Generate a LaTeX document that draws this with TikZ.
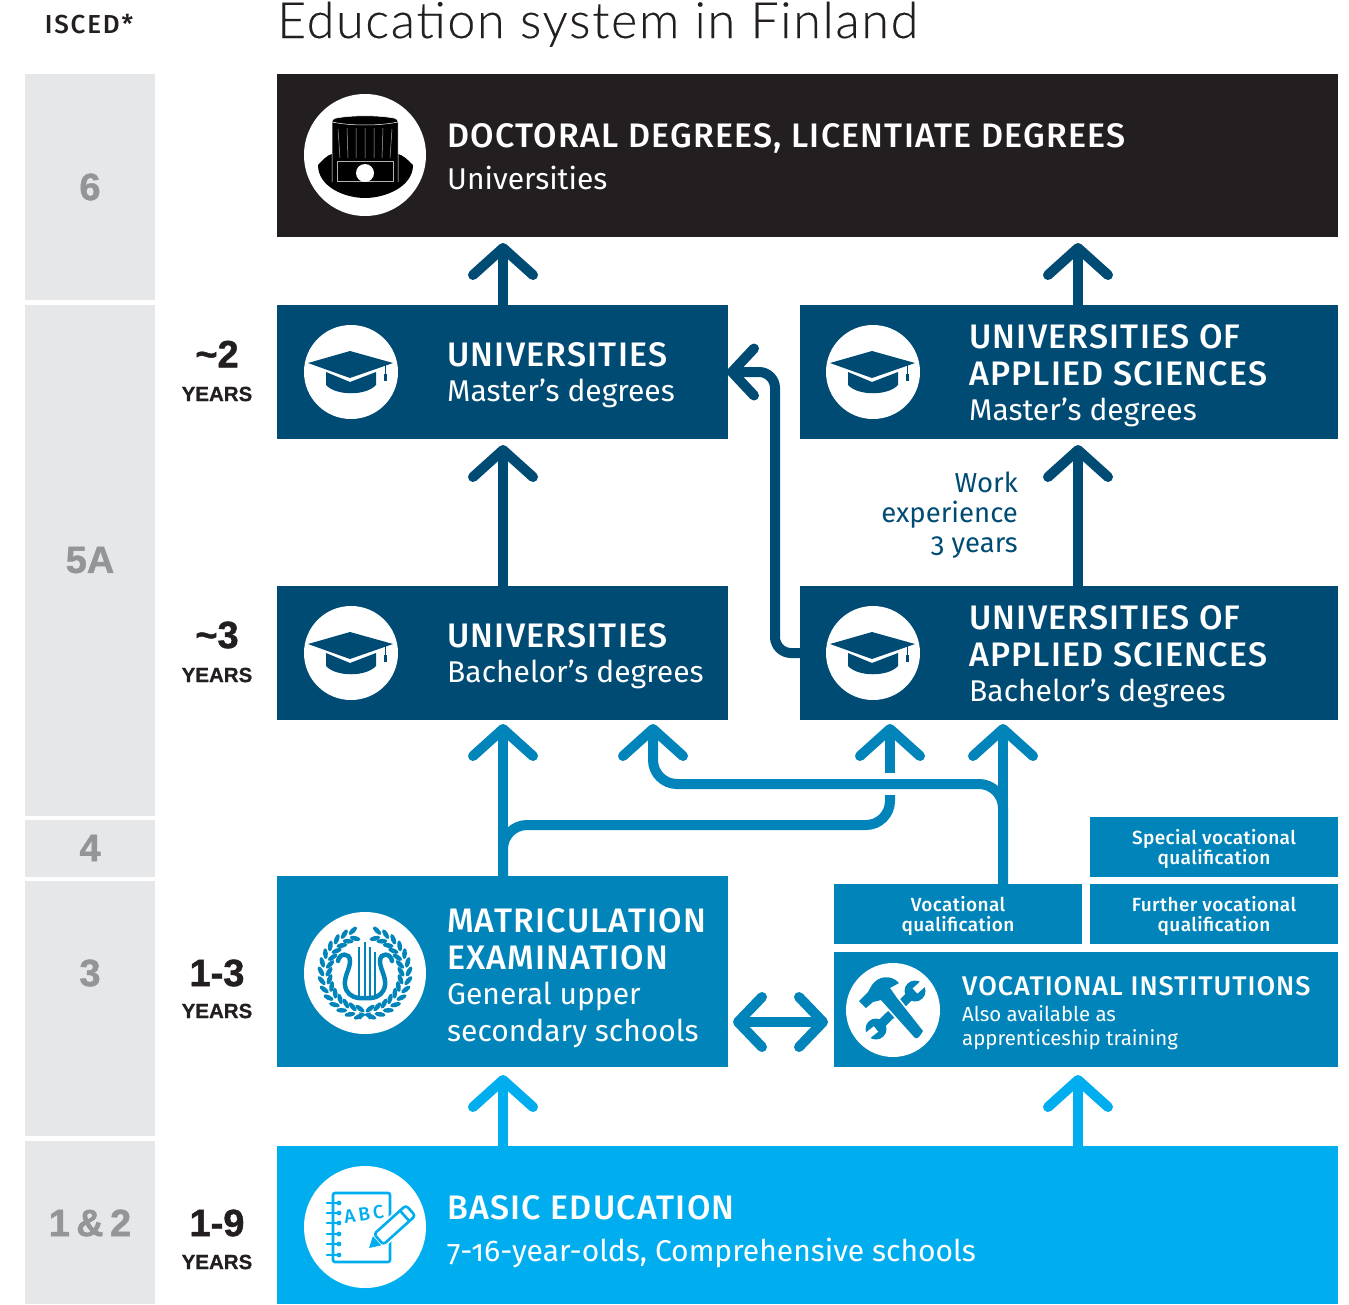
\documentclass[tikz,border=0pt]{standalone}
\usepackage{fontspec}
\setmainfont{Fira Sans}[Numbers=OldStyle,BoldFont={Fira Sans Medium}]
\newfontfamily\titlefont{Lato Light}[LetterSpace=3.6,FakeBold=0.3]
\newfontfamily\gradefont{Liberation Sans Bold}[FakeBold=1.2]
\newfontfamily\yearfont{Liberation Sans Bold}[FakeBold=0.7]
\newfontfamily\headface{Fira Sans Medium}[LetterSpace=3.6]
\newfontfamily\qualface{Fira Sans Medium}[LetterSpace=2,Numbers=OldStyle]
\newfontfamily\iscedface{Fira Sans Medium}[LetterSpace=7]
\usetikzlibrary{arrows.meta}
\definecolor{inkblack}{HTML}{231F20}
\definecolor{navyblue}{HTML}{004B73}
\definecolor{teal}{HTML}{0084B9}
\definecolor{skyblue}{HTML}{00AEEF}
\definecolor{stripgrey}{HTML}{E6E7E8}
\definecolor{gradegrey}{HTML}{939598}
\newcommand{\boxfont}{\fontsize{30}{37}\selectfont}
\newcommand{\smallboxfont}{\fontsize{19}{20}\selectfont}
\newcommand{\notefont}{\fontsize{20.4}{24}\selectfont}
\newcommand{\stagehead}[1]{{\headface\fontsize{34}{37}\selectfont #1}}
\newcommand{\qualstrut}{\rule{0pt}{20pt}}
\tikzset{
  eduarrow/.style={line width=10pt,-{Straight Barb[length=27pt,width=60pt,round]}},
  eduline/.style={line width=10pt},
  sidearrow/.style={line width=10pt,-{Straight Barb[length=22pt,width=47pt,round]}},
  bothways/.style={line width=10pt,{Straight Barb[length=24pt,width=50pt,round]}-{Straight Barb[length=24pt,width=50pt,round]}},
  stagebox/.style={anchor=north west,inner sep=0pt,outer sep=0pt,text=white},
  qualbox/.style={stagebox,fill=teal,minimum width=248pt,minimum height=60pt,align=center,font=\qualface\smallboxfont},
  stagetext/.style={anchor=west,inner sep=0pt,text=white,align=left,font=\boxfont},
  isced/.style={anchor=north west,inner sep=0pt,fill=stripgrey,minimum width=130pt},
  gradelabel/.style={inner sep=0pt,text=gradegrey,font=\gradefont\fontsize{38}{38}\selectfont},
  yearnum/.style={inner sep=0pt,text=inkblack,font=\gradefont\fontsize{38}{38}\selectfont},
  yearword/.style={inner sep=0pt,text=inkblack,font=\yearfont\fontsize{20.5}{20.5}\selectfont},
  bigdisc/.style={circle,fill=white,inner sep=0pt,minimum size=122pt},
  smalldisc/.style={circle,fill=white,inner sep=0pt,minimum size=94pt},
  pics/gradcap/.style={code={
    \fill[navyblue] (-25,0) -- (-1,10) -- (25,0) -- (25,13) .. controls (15,24) and (-15,24) .. (-25,13) -- cycle;
    \fill[navyblue] (-43,-9) -- (-1,-21) -- (42,-9) -- (-1,6) -- cycle;
    \draw[navyblue,line width=1pt] (34,-7) -- (34,5);
    \fill[navyblue] (32.5,2) rectangle (35.5,9);
  }},
  pics/tophat/.style={code={
    \fill[black] (-47,10) .. controls (-42,5) and (-38,0) .. (-33,-1) -- (33,-1) .. controls (38,0) and (43,5) .. (48,10)
      .. controls (48,32) and (20,43) .. (0,43) .. controls (-20,43) and (-47,32) .. (-47,10) -- cycle;
    \draw[white,line width=0.5pt,fill=black,rounded corners=3pt] (-33,27) -- (-33,-36) .. controls (-15,-40) and (15,-40) .. (33,-36) -- (33,27);
    \draw[white,line width=0.5pt] (-33,-33) .. controls (-15,-29) and (15,-29) .. (33,-33);
    \draw[white!70!black,line width=0.5pt] (-27,-26) -- (-25,3) (-18,-27) -- (-17,3) (-9,-27) -- (-9,3) (0,-27) -- (0,3) (9,-27) -- (9,3) (18,-27) -- (17,3) (27,-26) -- (25,3);
    \draw[white!70!black,line width=0.5pt] (-28,26) -- (-28,6) -- (28,6) -- (28,26) -- cycle;
    \fill[white] (0,18) circle (9);
  }},
  pics/lyrewreath/.style={code={
    \foreach \wa in {-74,-62,...,82} {
      \fill[teal,shift={(\wa:44)},rotate=-\wa+60] (0,0) ellipse (5.5 and 2.4);
      \fill[teal,shift={(\wa:36)},rotate=-\wa+120] (0,0) ellipse (5.5 and 2.4);
      \fill[teal,shift={(180-\wa:44)},rotate=\wa-60] (0,0) ellipse (5.5 and 2.4);
      \fill[teal,shift={(180-\wa:36)},rotate=\wa-120] (0,0) ellipse (5.5 and 2.4);
    }
    \draw[teal,line width=4.5pt,line cap=round] (-27,-12) .. controls (-26,-20) and (-15,-21) .. (-15,-12) .. controls (-15,-4) and (-21,3) .. (-20,12) .. controls (-19,20) and (-14,24) .. (-6,25) -- (6,25) .. controls (14,24) and (19,20) .. (20,12) .. controls (21,3) and (15,-4) .. (15,-12) .. controls (15,-21) and (26,-20) .. (27,-12);
    \draw[teal,line width=1.8pt] (-5.7,-26) -- (-5.7,23) (-0.3,-31) -- (-0.3,23) (5,-26) -- (5,23) (10,-21) -- (10,23);
    \draw[teal,line width=1.2pt] (-5,46) .. controls (-2,42) and (2,40) .. (6,40) (5,46) .. controls (2,42) and (-2,40) .. (-6,40);
  }},
  pics/crossedtools/.style={code={
    \draw[teal,line width=9pt] (22,-19) -- (-17,19);
    \fill[teal] (22,-19) circle (10.5) (-17,19) circle (10.5);
    \draw[white,line width=7pt] (22,-19) -- (33,-29) (-17,19) -- (-31,30);
    \draw[white,line width=3.5pt,fill=teal,line join=round] (-34,-9) -- (-27,-2) -- (-20,-8) -- (-12,-10) -- (22,28) .. controls (25,30) and (28,24) .. (30,21) -- (4,-12) -- (-3,-22) -- (6,-27) .. controls (-2,-36) and (-15,-34) .. (-21,-25) -- (-25,-18) -- (-29,-14) -- cycle;
    \fill[teal] (-34,-9) -- (-27,-2) -- (-20,-8) -- (-12,-10) -- (22,28) .. controls (25,30) and (28,24) .. (30,21) -- (4,-12) -- (-3,-22) -- (6,-27) .. controls (-2,-36) and (-15,-34) .. (-21,-25) -- (-25,-18) -- (-29,-14) -- cycle;
  }},
  pics/notebook/.style={code={
    \draw[skyblue,line width=2.6pt,rounded corners=2pt] (-32,-34) rectangle (25,35);
    \foreach \ry in {-24,-14,-4,7,17,28} {
      \draw[skyblue,line width=2.8pt,line cap=round,fill=white] (-38,\ry) -- (-27,\ry);
      \fill[skyblue] (-26,\ry) circle (2.4);
    }
    \node[text=skyblue,inner sep=0pt,rotate=8,font=\fontsize{19}{19}\selectfont\bfseries] (abcword) at (-1,-13) {A\,B\,C};
    \begin{scope}[shift={(4,21)},rotate=42]
      \fill[skyblue] (0,0) -- (14,-8) -- (14,8) -- cycle;
      \draw[white,line width=6pt] (14,-7) rectangle (54,7);
      \draw[skyblue,line width=2.6pt,fill=white,rounded corners=3pt] (13,-7) -- (56,-7) -- (56,7) -- (13,7) -- cycle;
      \draw[skyblue,line width=2.6pt] (48,-7) -- (48,7);
    \end{scope}
  }}
}
\begin{document}
\begin{tikzpicture}[x=1pt,y=-1pt]
\useasboundingbox (0,0) rectangle (1349,1304);
% heading
\node[inner sep=0pt,text=inkblack,font=\iscedface\fontsize{26}{26}\selectfont] (iscedhead) at (89,24) {ISCED*};
\node[anchor=base west,inner sep=0pt,text=inkblack,font=\titlefont\fontsize{50}{50}\selectfont] (maintitle) at (277,38) {Education system in Finland};
% ISCED strip
\node[isced,minimum height=226pt] (stripsix) at (25,74) {};
\node[isced,minimum height=511pt] (stripfive) at (25,305) {};
\node[isced,minimum height=57pt] (stripfour) at (25,820) {};
\node[isced,minimum height=255pt] (stripthree) at (25,881) {};
\node[isced,minimum height=163pt] (stripone) at (25,1141) {};
\node[gradelabel] (gradesix) at (90,187) {6};
\node[gradelabel] (gradefive) at (90,560) {5A};
\node[gradelabel] (gradefour) at (90,848) {4};
\node[gradelabel] (gradethree) at (90,973) {3};
\node[gradelabel] (gradeone) at (90,1223) {1\,\&\,2};
% years
\node[yearnum] (yearsmaster) at (217,354) {\textasciitilde 2};
\node[yearword] (wordmaster) at (217,394) {YEARS};
\node[yearnum] (yearsbach) at (217,635) {\textasciitilde 3};
\node[yearword] (wordbach) at (217,675) {YEARS};
\node[yearnum] (yearsupper) at (217,973) {1-3};
\node[yearword] (wordupper) at (217,1011) {YEARS};
\node[yearnum] (yearsbasic) at (217,1223) {1-9};
\node[yearword] (wordbasic) at (217,1262) {YEARS};
% stages
\node[stagebox,fill=inkblack,minimum width=1061pt,minimum height=163pt] (doctoral) at (277,74) {};
\node[stagebox,fill=navyblue,minimum width=451pt,minimum height=134pt] (unimaster) at (277,305) {};
\node[stagebox,fill=navyblue,minimum width=538pt,minimum height=134pt] (uasmaster) at (800,305) {};
\node[stagebox,fill=navyblue,minimum width=451pt,minimum height=134pt] (unibach) at (277,586) {};
\node[stagebox,fill=navyblue,minimum width=538pt,minimum height=134pt] (uasbach) at (800,586) {};
\node[stagebox,fill=teal,minimum width=451pt,minimum height=191pt] (matric) at (277,876) {};
\node[stagebox,fill=teal,minimum width=504pt,minimum height=115pt] (vocschool) at (834,952) {};
\node[stagebox,fill=skyblue,minimum width=1061pt,minimum height=158pt] (basicedu) at (277,1146) {};
\node[qualbox] (vocqual) at (834,884) {\qualstrut Vocational\\qualification};
\node[qualbox] (furtherqual) at (1090,884) {\qualstrut Further vocational\\qualification};
\node[qualbox] (specialqual) at (1090,817) {\qualstrut Special vocational\\qualification};
% stage texts
\node[stagetext,font=\fontsize{30}{44}\selectfont] (doctext) at (447,157) {\stagehead{DOCTORAL DEGREES, LICENTIATE DEGREES}\\[-2pt]Universities};
\node[stagetext] (unimastertext) at (447,375.5) {\stagehead{UNIVERSITIES}\\[-2pt]Master’s degrees};
\node[stagetext] (uasmastertext) at (969,376) {\stagehead{UNIVERSITIES OF}\\\stagehead{APPLIED SCIENCES}\\[-2pt]Master’s degrees};
\node[stagetext] (unibachtext) at (447,656.5) {\stagehead{UNIVERSITIES}\\[-2pt]Bachelor’s degrees};
\node[stagetext] (uasbachtext) at (969,657) {\stagehead{UNIVERSITIES OF}\\\stagehead{APPLIED SCIENCES}\\[-2pt]Bachelor’s degrees};
\node[stagetext] (matrictext) at (447,978) {\stagehead{MATRICULATION}\\\stagehead{EXAMINATION}\\[-2pt]General upper\\secondary schools};
\node[stagetext,font=\notefont] (voctext) at (962,1013) {{\headface\fontsize{27}{28}\selectfont VOCATIONAL INSTITUTIONS}\\[2pt]\notefont Also available as\\\notefont apprenticeship training};
\node[stagetext,font=\fontsize{30}{44}\selectfont] (basictext) at (447,1231.5) {\stagehead{BASIC EDUCATION}\\[-2pt]7-16-year-olds, Comprehensive schools};
\node[anchor=east,inner sep=0pt,text=navyblue,align=right,font=\fontsize{27.5}{30}\selectfont] (workexp) at (1018,515.5) {Work\\experience\\3 years};
% icons
\node[bigdisc] (hatdisc) at (365,155) {};
\pic at (hatdisc) {tophat};
\node[smalldisc] (capmaster) at (351,372) {};
\pic at (capmaster) {gradcap};
\node[smalldisc] (capuasmaster) at (873,372) {};
\pic at (capuasmaster) {gradcap};
\node[smalldisc] (capbach) at (351,653) {};
\pic at (capbach) {gradcap};
\node[smalldisc] (capuasbach) at (873,653) {};
\pic at (capuasbach) {gradcap};
\node[bigdisc] (lyredisc) at (365,973) {};
\pic at (lyredisc) {lyrewreath};
\node[smalldisc] (tooldisc) at (893,1010) {};
\pic at (tooldisc) {crossedtools};
\node[bigdisc] (bookdisc) at (365,1227) {};
\pic at (bookdisc) {notebook};
% free arrow ends
\coordinate (tipdocuni) at (503,243);
\coordinate (tipdocuas) at (1078,243);
\coordinate (tipuni) at (503,445);
\coordinate (tipuas) at (1078,445);
\coordinate (tipmatric) at (503,724);
\coordinate (tipcross) at (653,724);
\coordinate (tipuasleft) at (890,724);
\coordinate (tipvoc) at (1003,724);
\coordinate (tipbasicleft) at (503,1075);
\coordinate (tipbasicright) at (1078,1075);
% arrows
\draw[eduarrow,navyblue] (tipdocuni |- unimaster.north) -- (tipdocuni);
\draw[eduarrow,navyblue] (tipdocuas |- uasmaster.north) -- (tipdocuas);
\draw[eduarrow,navyblue] (tipuni |- unibach.north) -- (tipuni);
\draw[eduarrow,navyblue] (tipuas |- uasbach.north) -- (tipuas);
\draw[sidearrow,navyblue,rounded corners=16pt,shorten >=-1pt] (uasbach.west) -- (775,653) -- (775,372) -- (unimaster.east);
\draw[eduarrow,teal] (tipmatric |- matric.north) -- (tipmatric);
\draw[eduarrow,teal] (tipvoc |- vocqual.north) -- (tipvoc);
\draw[eduline,teal,rounded corners=24pt] (tipmatric |- matric.north) -- (503,825) -- (890,825) -- (890,795);
\draw[eduarrow,teal] (890,773) -- (tipuasleft);
\draw[eduarrow,teal,rounded corners=24pt] (tipvoc |- vocqual.north) -- (1003,784) -- (653,784) -- (tipcross);
\draw[eduarrow,skyblue] (tipbasicleft |- basicedu.north) -- (tipbasicleft);
\draw[eduarrow,skyblue] (tipbasicright |- basicedu.north) -- (tipbasicright);
\draw[bothways,teal] (733,1022) -- (828,1022);
\end{tikzpicture}
\end{document}
